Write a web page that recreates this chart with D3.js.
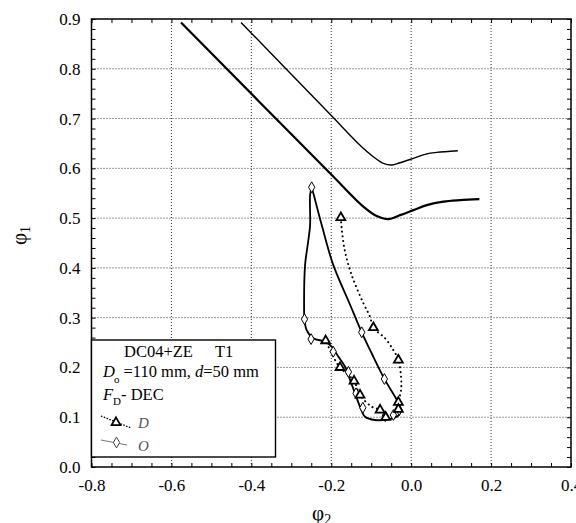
<!DOCTYPE html>
<html>
<head>
<meta charset="utf-8">
<title>phi1 vs phi2</title>
<script src="https://cdn.jsdelivr.net/npm/d3@7"></script>
<style>
  body { margin: 0; background: #fff; }
  text { font-family: "Liberation Serif", "Times New Roman", serif; }
</style>
</head>
<body>
<div id="chart"></div>
<script>
// tick values
var xTicks = [-0.8, -0.6, -0.4, -0.2, 0.0, 0.2, 0.4];
var yTicks = [0.0, 0.1, 0.2, 0.3, 0.4, 0.5, 0.6, 0.7, 0.8, 0.9];

// lower (thick) curve
var lowX = [-0.576, -0.203, -0.1197, -0.0861, -0.057, -0.0278, 0.0055, 0.039, 0.0806, 0.1224, 0.1707];
var lowY = [0.893, 0.590, 0.523, 0.504, 0.498, 0.506, 0.516, 0.526, 0.533, 0.536, 0.538];

// upper (thin) curve
var upX = [-0.4258, -0.2005, -0.128, -0.0946, -0.0696, -0.0486, -0.0278, 0.0055, 0.039, 0.064, 0.1167];
var upY = [0.893, 0.7065, 0.6465, 0.6233, 0.610, 0.6067, 0.6113, 0.620, 0.629, 0.632, 0.6354];

// O series: solid loop + diamonds
var oLineX = [-0.249, -0.253, -0.253, -0.259, -0.2655, -0.268, -0.267, -0.2615, -0.245, -0.2155, -0.199, -0.182, -0.1655, -0.153, -0.1405, -0.128, -0.1154, -0.0904, -0.057, -0.036, -0.0278, -0.0295, -0.0403, -0.067, -0.0986, -0.1237, -0.155, -0.195, -0.2238, -0.2435, -0.249];
var oLineY = [0.562, 0.546, 0.486, 0.446, 0.406, 0.325, 0.297, 0.275, 0.2585, 0.2518, 0.2417, 0.2216, 0.2015, 0.175, 0.148, 0.121, 0.101, 0.0944, 0.0958, 0.101, 0.108, 0.1245, 0.141, 0.177, 0.228, 0.2706, 0.33, 0.406, 0.486, 0.546, 0.562];
var oMarkX = [-0.249, -0.267, -0.2505, -0.195, -0.157, -0.138, -0.121, -0.065, -0.0445, -0.030, -0.067, -0.1237];
var oMarkY = [0.562, 0.297, 0.257, 0.2316, 0.191, 0.148, 0.119, 0.102, 0.1045, 0.1145, 0.1768, 0.2706];

// D series: dotted loop + triangles
var dLineX = [-0.176, -0.174, -0.1655, -0.149, -0.1196, -0.103, -0.0946, -0.0653, -0.0446, -0.032, -0.0253, -0.0253, -0.032, -0.032, -0.0486, -0.0636, -0.0778, -0.0986, -0.128, -0.143, -0.178, -0.1905, -0.214];
var dLineY = [0.501, 0.4795, 0.4325, 0.3857, 0.329, 0.302, 0.280, 0.2585, 0.235, 0.215, 0.181, 0.155, 0.130, 0.116, 0.1045, 0.0998, 0.1145, 0.121, 0.1446, 0.1728, 0.200, 0.215, 0.2537];
var dMarkX = [-0.176, -0.0946, -0.032, -0.032, -0.032, -0.0636, -0.0778, -0.128, -0.143, -0.178, -0.214];
var dMarkY = [0.501, 0.280, 0.215, 0.130, 0.116, 0.0998, 0.1145, 0.1446, 0.1728, 0.200, 0.2537];

var W = 576, H = 523;
var pL = 91.5, pR = 571, pT = 19, pB = 467;

var svg = d3.select("#chart").append("svg")
  .attr("width", W).attr("height", H)
  .style("background", "#fff");

var x = d3.scaleLinear().domain([-0.8, 0.4]).range([pL, pR]);
var y = d3.scaleLinear().domain([0, 0.9]).range([pB, pT]);

function fmt(d) { return d.toFixed(1); }

// grid
svg.append("g").selectAll("line")
  .data(xTicks.slice(1, -1))
  .enter().append("line")
    .attr("x1", function(d){ return x(d); }).attr("x2", function(d){ return x(d); })
    .attr("y1", pT).attr("y2", pB)
    .attr("stroke", "#333").attr("stroke-width", 1).attr("stroke-dasharray", "1,2");
svg.append("g").selectAll("line")
  .data(yTicks.slice(1, -1))
  .enter().append("line")
    .attr("y1", function(d){ return y(d); }).attr("y2", function(d){ return y(d); })
    .attr("x1", pL).attr("x2", pR)
    .attr("stroke", "#333").attr("stroke-width", 1).attr("stroke-dasharray", "1,2");

// inward minor ticks on all four sides
var xMinor = d3.range(-0.8, 0.4001, 0.05);
var yMinor = d3.range(0, 0.9001, 0.02);

function noDomain(g) { g.select(".domain").remove(); g.selectAll("line").attr("stroke", "#000"); }

svg.append("g").attr("transform", "translate(0," + pB + ")")
  .call(d3.axisTop(x).tickValues(xMinor).tickSize(4).tickFormat(""))
  .call(noDomain);
svg.append("g").attr("transform", "translate(0," + pT + ")")
  .call(d3.axisBottom(x).tickValues(xMinor).tickSize(4).tickFormat(""))
  .call(noDomain);
svg.append("g").attr("transform", "translate(" + pL + ",0)")
  .call(d3.axisRight(y).tickValues(yMinor).tickSize(4).tickFormat(""))
  .call(noDomain);
svg.append("g").attr("transform", "translate(" + pR + ",0)")
  .call(d3.axisLeft(y).tickValues(yMinor).tickSize(4).tickFormat(""))
  .call(noDomain);

// tick labels
var xAx = svg.append("g").attr("transform", "translate(0," + pB + ")")
  .call(d3.axisBottom(x).tickValues(xTicks).tickSize(0).tickPadding(12).tickFormat(fmt));
xAx.select(".domain").remove();
xAx.selectAll("text").attr("font-size", 17).attr("fill", "#000")
  .style("font-family", "Liberation Serif, serif");

var yAx = svg.append("g").attr("transform", "translate(" + pL + ",0)")
  .call(d3.axisLeft(y).tickValues(yTicks).tickSize(0).tickPadding(11).tickFormat(fmt));
yAx.select(".domain").remove();
yAx.selectAll("text").attr("font-size", 17).attr("fill", "#000")
  .style("font-family", "Liberation Serif, serif");

function zip(xs, ys) { return xs.map(function(v, i){ return [v, ys[i]]; }); }

var line = d3.line()
  .x(function(d){ return x(d[0]); })
  .y(function(d){ return y(d[1]); })
  .curve(d3.curveCatmullRom.alpha(0.5));

svg.append("path").datum(zip(upX, upY))
  .attr("d", line).attr("fill", "none").attr("stroke", "#000").attr("stroke-width", 1.4);
svg.append("path").datum(zip(lowX, lowY))
  .attr("d", line).attr("fill", "none").attr("stroke", "#000").attr("stroke-width", 2.2);

svg.append("path").datum(zip(oLineX, oLineY))
  .attr("d", line).attr("fill", "none").attr("stroke", "#000").attr("stroke-width", 1.8);
svg.append("path").datum(zip(dLineX, dLineY))
  .attr("d", line).attr("fill", "none").attr("stroke", "#000").attr("stroke-width", 2)
  .attr("stroke-linecap", "round").attr("stroke-dasharray", "0.1,4.6");

var tri = d3.symbol().type(d3.symbolTriangle).size(34);
var dia = d3.symbol().type(d3.symbolDiamond).size(34);

svg.append("g").selectAll("path")
  .data(zip(oMarkX, oMarkY))
  .enter().append("path")
    .attr("d", dia)
    .attr("transform", function(d){ return "translate(" + x(d[0]) + "," + y(d[1]) + ")"; })
    .attr("fill", "#fff").attr("stroke", "#000").attr("stroke-width", 1);
svg.append("g").selectAll("path")
  .data(zip(dMarkX, dMarkY))
  .enter().append("path")
    .attr("d", tri)
    .attr("transform", function(d){ return "translate(" + x(d[0]) + "," + y(d[1]) + ")"; })
    .attr("fill", "#fff").attr("stroke", "#000").attr("stroke-width", 1.8);

// frame
svg.append("rect")
  .attr("x", pL).attr("y", pT).attr("width", pR - pL).attr("height", pB - pT)
  .attr("fill", "none").attr("stroke", "#000").attr("stroke-width", 1.5);

// legend
var lg = svg.append("g");
lg.append("rect").attr("x", pL).attr("y", 340).attr("width", 184).attr("height", 117)
  .attr("fill", "#fff").attr("stroke", "#000").attr("stroke-width", 1.4);
lg.append("text").attr("x", 124).attr("y", 357).attr("font-size", 16.5).text("DC04+ZE");
lg.append("text").attr("x", 215).attr("y", 357).attr("font-size", 16.5).text("T1");

var t2 = lg.append("text").attr("x", 103).attr("y", 377).attr("font-size", 16.5);
t2.append("tspan").attr("font-style", "italic").text("D");
t2.append("tspan").attr("font-size", 11).attr("dy", 6).attr("dx", -1).text("o");
t2.append("tspan").attr("dy", -6).text(" =110 mm, ");
t2.append("tspan").attr("font-style", "italic").text("d");
t2.append("tspan").text("=50 mm");

var t3 = lg.append("text").attr("x", 103).attr("y", 400).attr("font-size", 16.5);
t3.append("tspan").attr("font-style", "italic").text("F");
t3.append("tspan").attr("font-size", 11).attr("dy", 5).text("D");
t3.append("tspan").attr("dy", -5).text("- DEC");

lg.append("line").attr("x1", 101).attr("y1", 416).attr("x2", 131).attr("y2", 428)
  .attr("stroke", "#000").attr("stroke-width", 1.3).attr("stroke-dasharray", "1.5,1.5");
lg.append("path").attr("d", tri).attr("transform", "translate(116,422.5)")
  .attr("fill", "#fff").attr("stroke", "#000").attr("stroke-width", 1.8);
lg.append("text").attr("x", 138).attr("y", 428).attr("font-size", 15)
  .attr("font-style", "italic").attr("fill", "#555").text("D");

lg.append("line").attr("x1", 101).attr("y1", 440).attr("x2", 127).attr("y2", 445)
  .attr("stroke", "#777").attr("stroke-width", 1);
lg.append("path").attr("d", dia).attr("transform", "translate(116.5,442.5)")
  .attr("fill", "#fff").attr("stroke", "#444").attr("stroke-width", 1);
lg.append("text").attr("x", 138).attr("y", 451).attr("font-size", 15)
  .attr("font-style", "italic").attr("fill", "#555").text("O");

// axis titles
var xt = svg.append("text").attr("x", 312).attr("y", 520).attr("font-size", 21);
xt.append("tspan").text("φ");
xt.append("tspan").attr("font-size", 14).attr("dy", 4).text("2");

var yt = svg.append("text").attr("transform", "translate(26,245) rotate(-90)").attr("font-size", 21);
yt.append("tspan").text("φ");
yt.append("tspan").attr("font-size", 14).attr("dy", 4).text("1");
</script>
</body>
</html>
